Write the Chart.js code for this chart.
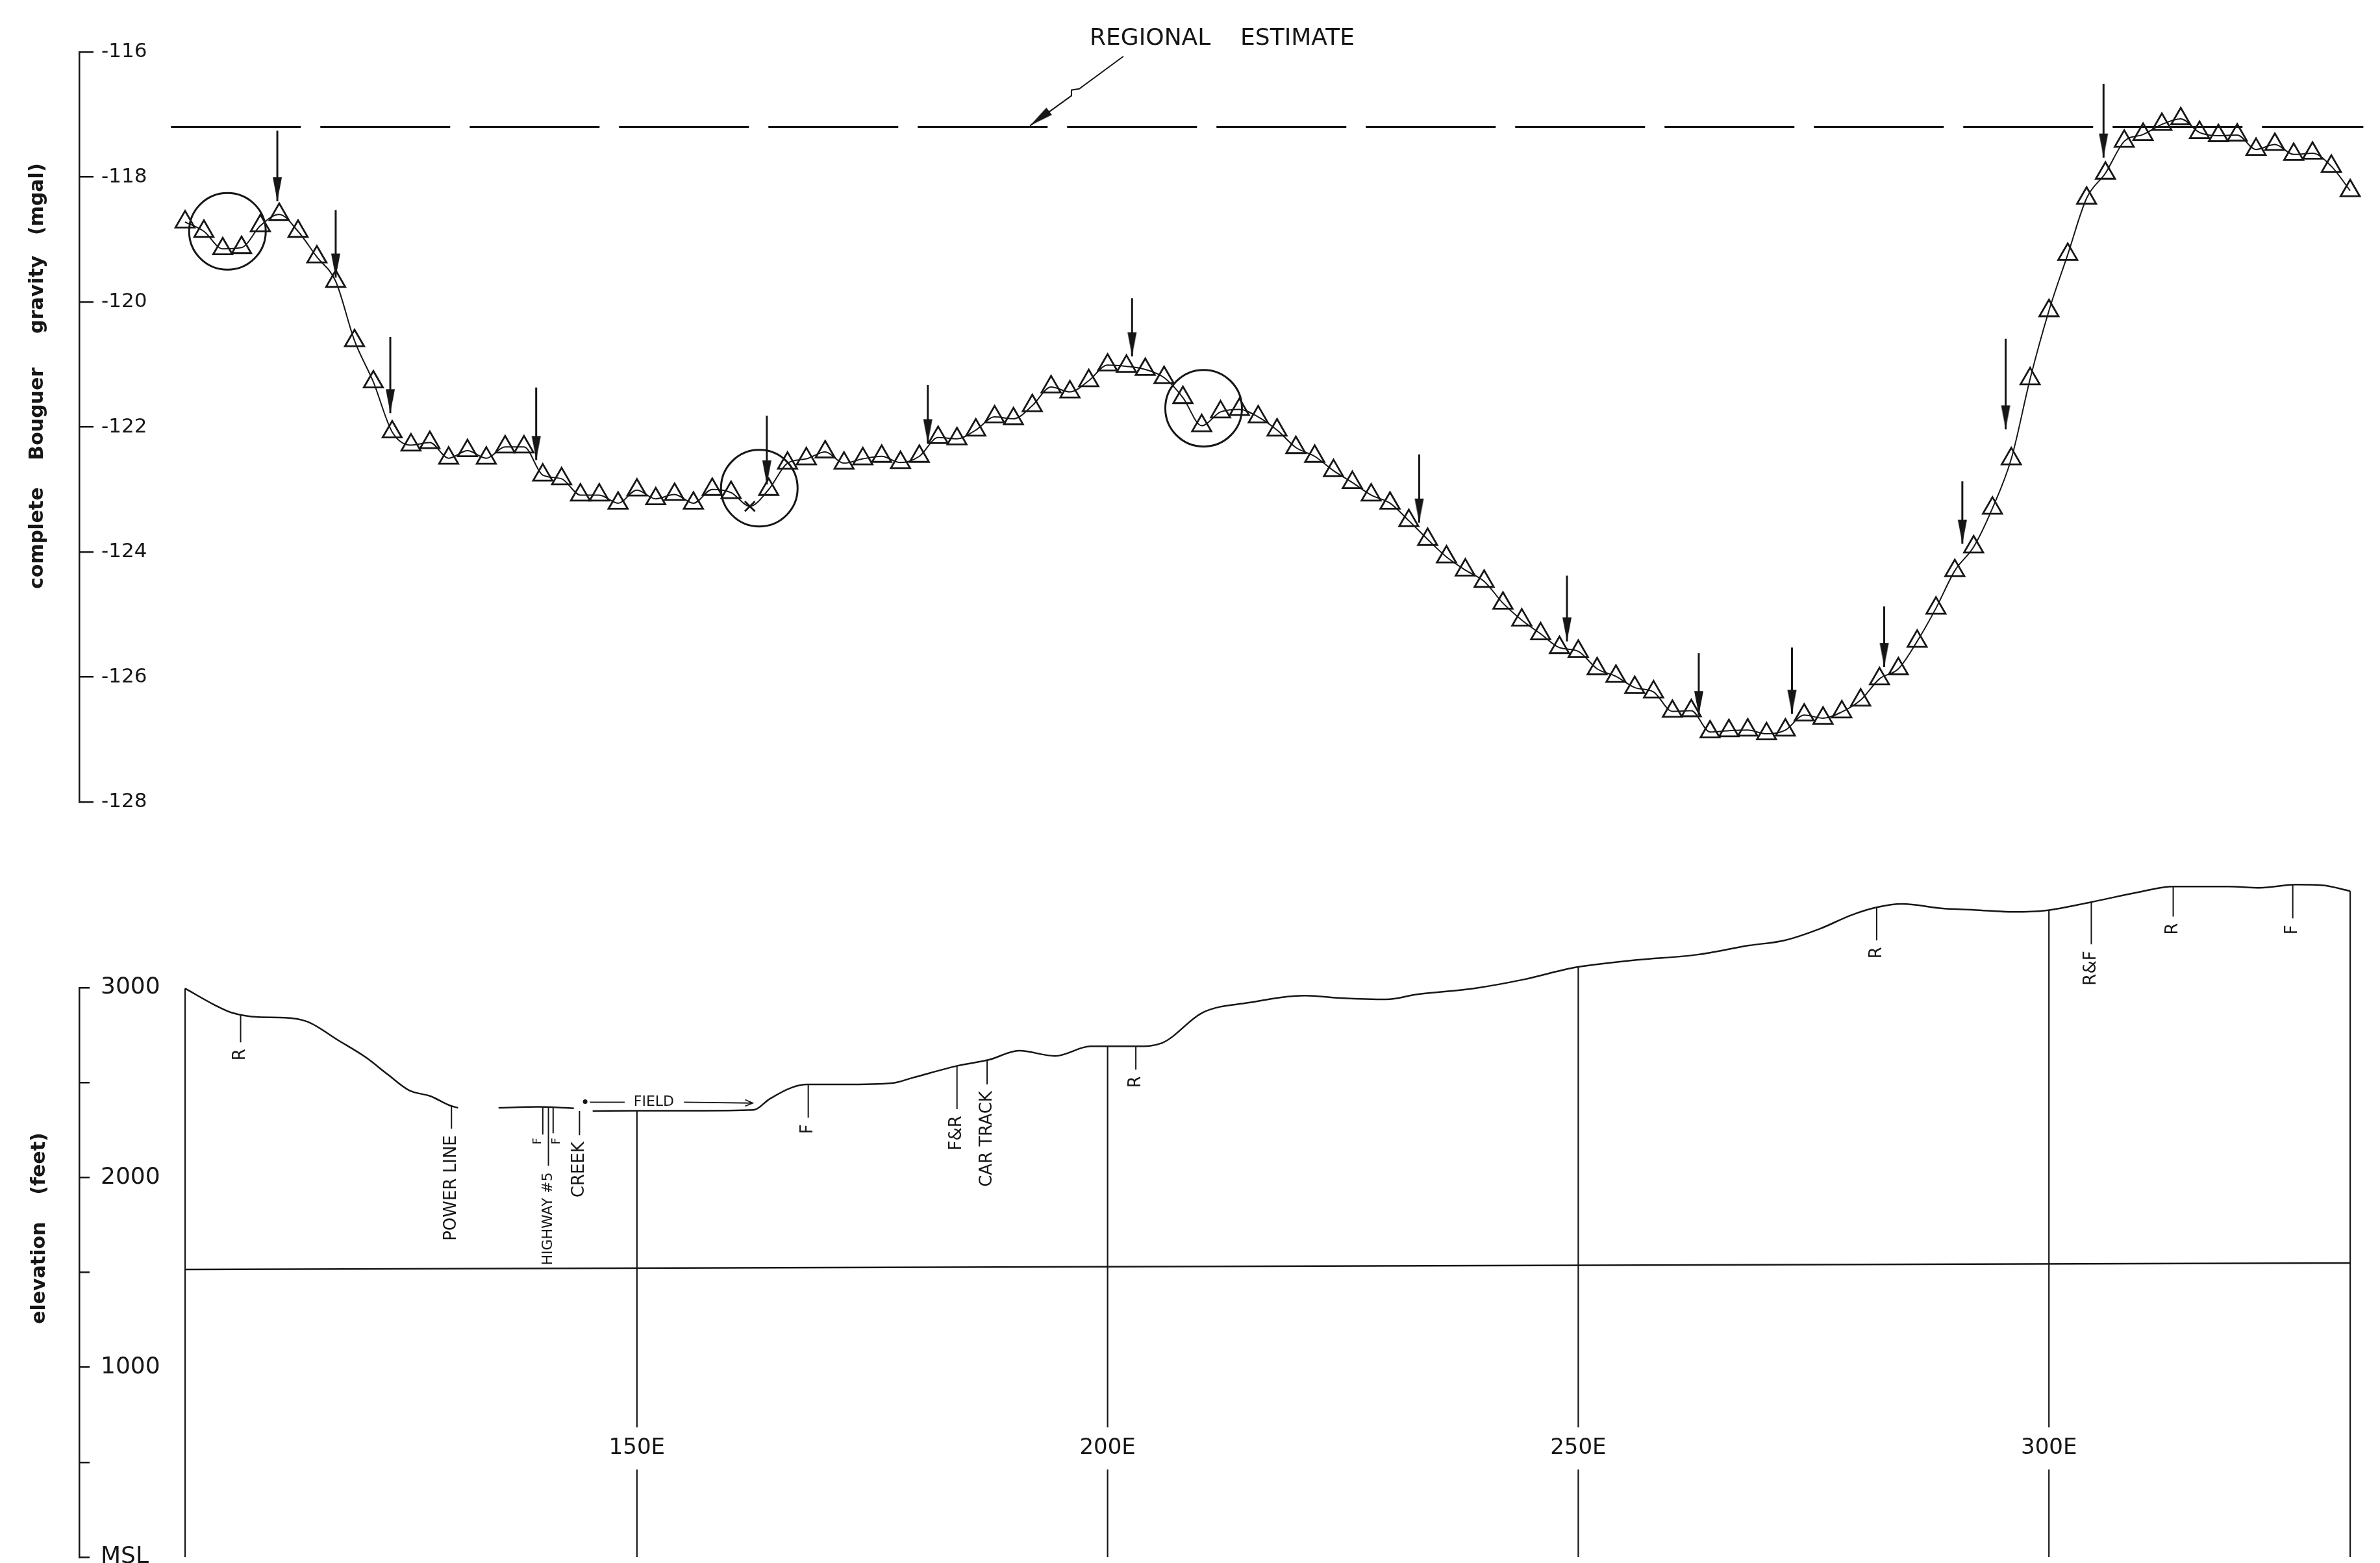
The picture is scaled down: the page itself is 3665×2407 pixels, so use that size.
<!DOCTYPE html>
<html>
<head>
<meta charset="utf-8">
<title>Complete Bouguer gravity and elevation profile</title>
<script src="https://cdn.jsdelivr.net/npm/chart.js@4.4.1/dist/chart.umd.min.js"></script>
<style>
  html, body { margin:0; padding:0; background:#fff; overflow:hidden; }
  #page { position:relative; width:3665px; height:2407px; overflow:hidden; background:#fff; }
  #gravityChart { position:absolute; left:0; top:0; }
  #elevationChart { position:absolute; left:0; top:1300px; }
</style>
</head>
<body>
<div id="page">
  <canvas id="gravityChart" width="3665" height="1300"></canvas>
  <canvas id="elevationChart" width="3665" height="1160"></canvas>
</div>
<script>
// ================= DATA =================
// --- upper panel: complete Bouguer gravity (mgal) at each station ---
const stations = [102,104,106,108,110,112,114,116,118,120,122,124,126,128,130,132,134,136,138,140,
  142,144,146,148,150,152,154,156,158,160,162,164,166,168,170,172,174,176,178,180,
  182,184,186,188,190,192,194,196,198,200,202,204,206,208,210,212,214,216,218,220,
  222,224,226,228,230,232,234,236,238,240,242,244,246,248,250,252,254,256,258,260,
  262,264,266,268,270,272,274,276,278,280,282,284,286,288,290,292,294,296,298,300,
  302,304,306,308,310,312,314,316,318,320,322,324,326,328,330,332];
const gravity = [-118.72,-118.87,-119.15,-119.13,-118.78,-118.60,-118.87,-119.28,-119.67,-120.62,
  -121.28,-122.08,-122.29,-122.25,-122.50,-122.38,-122.50,-122.32,-122.32,-122.77,
  -122.83,-123.09,-123.09,-123.22,-123.01,-123.15,-123.08,-123.22,-123.00,-123.05,
  -123.27,-123.00,-122.58,-122.51,-122.40,-122.58,-122.51,-122.47,-122.57,-122.47,
  -122.17,-122.19,-122.05,-121.84,-121.87,-121.66,-121.36,-121.44,-121.26,-121.01,
  -121.03,-121.08,-121.21,-121.53,-121.98,-121.76,-121.72,-121.84,-122.05,-122.33,
  -122.47,-122.70,-122.89,-123.09,-123.22,-123.50,-123.80,-124.08,-124.29,-124.47,
  -124.82,-125.09,-125.31,-125.53,-125.59,-125.87,-125.99,-126.17,-126.24,-126.55,
  -126.54,-126.88,-126.86,-126.85,-126.91,-126.85,-126.61,-126.66,-126.56,-126.37,
  -126.03,-125.87,-125.43,-124.90,-124.30,-123.92,-123.30,-122.51,-121.23,-120.14,
  -119.24,-118.34,-117.94,-117.43,-117.32,-117.16,-117.07,-117.29,-117.34,-117.33,
  -117.56,-117.48,-117.64,-117.62,-117.83,-118.22];
const rejectedStation = 162;
const gravityTicks = [-128,-126,-124,-122,-120,-118,-116];

const regionalLevel = -117.2;
const regionalSpan = [100.5, 333.4];
const regionalLabel = 'REGIONAL\u00A0\u00A0\u00A0\u00A0ESTIMATE';
const regionalLabelAt = [198.1, -115.79];
const leaderU = [201.68, 196.99, 196.16, 196.16, 191.75];
const leaderV = [-116.07, -116.59, -116.61, -116.70, -117.18];

const arrowU   = [111.8, 118.0, 123.8, 139.3, 163.8, 180.9, 202.6, 233.1, 248.8, 262.8, 272.7, 282.5, 290.8, 295.4, 305.8];
const arrowTop = [-117.26,-118.53,-120.56,-121.37,-121.82,-121.33,-119.94,-122.44,-124.38,-125.62,-125.53,-124.87,-122.87,-120.59,-116.51];
const arrowTip = [-118.39,-119.61,-121.78,-122.53,-122.92,-122.26,-120.87,-123.53,-125.43,-126.61,-126.59,-125.84,-123.87,-122.04,-117.69];

const circleU = [106.5, 163.0, 210.2];
const circleV = [-118.87, -122.98, -121.70];

// --- lower panel: elevation (feet) ---
const profileU = [102,105.2,106.9,109.8,112.6,115.0,118.3,121.2,123.5,125.8,128.1,130.1,131.0,null,
  135.3,139.5,142.4,143.3,null,
  145.3,150,156,162.4,164.1,166.4,168.1,172.0,177.1,179.2,184.1,187.4,190.6,194.4,198.2,200.0,203.1,205.8,
  210.1,215.0,221.0,224.8,229.6,232.9,238.9,244.3,249.5,251.9,256.2,262.7,268.1,271.9,275.7,279.0,281.7,284.4,
  288.7,292.0,296.3,299.6,304.5,309.4,313.2,319.1,322.4,326.2,329.0,332];
const profileElev = [2996,2907,2869,2845,2842,2821,2722,2633,2544,2459,2428,2380,2367,null,
  2367,2372,2367,2365,null,
  2350,2352,2352,2356,2414,2473,2490,2490,2497,2524,2589,2620,2668,2640,2691,2691,2691,2709,
  2869,2921,2958,2945,2938,2965,2996,3044,3105,3122,3146,3174,3222,3249,3311,3382,3423,3441,
  3417,3410,3399,3406,3451,3502,3533,3533,3526,3543,3540,3509];

const sectionU   = [102, 150, 200, 250, 300, 332];
const sectionTop = [2996, 2352, 2691, 3108, 3408, 3509];
const stationTicks = [150, 200, 250, 300];
const stationSuffix = 'E';

const datumU = [102, 332];
const datumElev = [1515, 1550];

const elevTicks = [0, 500, 1000, 1500, 2000, 2500, 3000];
const elevTickLabels = ['MSL', '', '1000', '', '2000', '', '3000'];

const noteU      = [107.9, 130.3, 140.0, 140.6, 141.1, 143.9, 168.2, 184.0, 187.2, 203.0, 281.7, 304.5, 313.2, 325.9];
const noteTop    = [2860, 2377, 2371, 2371, 2371, 2350, 2490, 2589, 2620, 2691, 3423, 3451, 3533, 3541];
const noteBottom = [2712, 2257, 2226, 2062, 2233, 2223, 2315, 2360, 2490, 2568, 3249, 3228, 3375, 3365];
const noteText   = ['R', 'POWER LINE', '', 'HIGHWAY #5', '', 'CREEK', 'F', 'F&R', 'CAR TRACK', 'R', 'R', 'R&F', 'R', 'F'];

const smallNoteU = [139.5, 141.5];
const smallNoteElev = [2192, 2192];
const smallNoteText = ['F', 'F'];

const fieldU    = [145.0, 148.7, null, 155.0, 162.3, null, 161.5, 162.3, 161.5];
const fieldElev = [2397, 2397, null, 2397, 2392, null, 2410, 2392, 2376];
const fieldDot  = [144.5, 2400];
const fieldLabel = 'FIELD';
const fieldLabelAt = [151.8, 2397];

// ================= LAYOUT / STYLE =================
const INK = '#161616';
const FONT = 'DejaVu Sans';
const AXIS_X = 122;          // px, vertical axis line
const FIRST_PX = 285;        // px of first station
const PX_PER_UNIT = 14.496;
const RIGHT_PAD = 15;
const X_MIN = stations[0] - (FIRST_PX - AXIS_X) / PX_PER_UNIT;
const X_MAX = stations[0] + (3665 - RIGHT_PAD - FIRST_PX) / PX_PER_UNIT;
const NB = '\u00A0';
const rep = n => NB.repeat(n);

Chart.defaults.font.family = FONT;
Chart.defaults.color = INK;

const pts = (us, vs) => us.map((u, i) => u === null ? {x: us[i - 1], y: null} : {x: u, y: vs[i]});

function makeArrowHead() {
  const c = document.createElement('canvas');
  c.width = 18; c.height = 84;
  const g = c.getContext('2d');
  g.fillStyle = INK;
  g.beginPath(); g.moveTo(2, 5); g.lineTo(16, 5); g.lineTo(9, 42); g.closePath(); g.fill();
  return c;
}
const arrowHead = makeArrowHead();

const textPlugin = {
  id: 'annotText',
  afterDatasetsDraw(chart, args, opts) {
    const {ctx} = chart;
    const xs = chart.scales.x, ys = chart.scales.y;
    (opts.items || []).forEach(it => {
      if (!it.text) return;
      ctx.save();
      ctx.font = it.font;
      ctx.fillStyle = INK;
      if (it.spacing) ctx.letterSpacing = it.spacing;
      ctx.translate(xs.getPixelForValue(it.u), ys.getPixelForValue(it.v));
      if (it.rotate) ctx.rotate(-Math.PI / 2);
      ctx.textAlign = it.align || 'center';
      ctx.textBaseline = it.baseline || 'middle';
      ctx.fillText(it.text, it.dx || 0, it.dy || 0);
      ctx.restore();
    });
  }
};

// ================= UPPER CHART =================
const arrowPts = [], arrowRadii = [];
arrowU.forEach((u, i) => {
  arrowPts.push({x: u, y: arrowTop[i]}, {x: u, y: arrowTip[i]}, {x: u, y: null});
  arrowRadii.push(0, 4, 0);
});

const gravTitle = rep(15) + 'complete' + rep(4) + 'Bouguer' + rep(5) + 'gravity' + rep(3) + '(mgal)';

new Chart(document.getElementById('gravityChart'), {
  type: 'line',
  data: {
    datasets: [
      { label: 'regional estimate', data: [{x: regionalSpan[0], y: regionalLevel}, {x: regionalSpan[1], y: regionalLevel}],
        borderColor: INK, borderWidth: 3, borderDash: [200, 30], pointRadius: 0, clip: false },
      { label: 'leader', data: pts(leaderU, leaderV), borderColor: INK, borderWidth: 2, tension: 0, clip: false,
        pointStyle: arrowHead, pointRadius: leaderU.map((u, i) => i === leaderU.length - 1 ? 4 : 0), pointRotation: 53 },
      { label: 'Bouguer gravity', data: pts(stations, gravity), borderColor: INK, borderWidth: 2,
        cubicInterpolationMode: 'monotone',
        pointStyle: stations.map(s => s === rejectedStation ? 'crossRot' : 'triangle'),
        pointRadius: stations.map(s => s === rejectedStation ? 11 : 17),
        pointBorderWidth: 2.8, pointBorderColor: INK, pointBackgroundColor: 'rgba(255,255,255,0)', clip: false },
      { label: 'circled', data: pts(circleU, circleV), showLine: false, pointStyle: 'circle', pointRadius: 59,
        pointBorderWidth: 3, pointBorderColor: INK, pointBackgroundColor: 'rgba(255,255,255,0)', clip: false },
      { label: 'arrows', data: arrowPts, borderColor: INK, borderWidth: 3, spanGaps: false,
        pointStyle: arrowHead, pointRadius: arrowRadii, clip: false }
    ]
  },
  options: {
    responsive: false, animation: false, devicePixelRatio: 1, events: [],
    layout: { autoPadding: false, padding: { left: 0, right: RIGHT_PAD, top: 80, bottom: 65 } },
    plugins: {
      legend: { display: false }, tooltip: { enabled: false },
      annotText: { items: [
        { text: regionalLabel, u: regionalLabelAt[0], v: regionalLabelAt[1], align: 'left', font: '36px ' + FONT }
      ] }
    },
    scales: {
      x: { type: 'linear', min: X_MIN, max: X_MAX, display: false },
      y: { type: 'linear', min: -128, max: -116, position: 'left',
        afterFit(s) { s.width = AXIS_X; },
        afterBuildTicks(s) { s.ticks = gravityTicks.map(v => ({value: v})); },
        ticks: { mirror: true, padding: 34, color: INK, font: { family: FONT, size: 31 }, callback: v => String(v) },
        grid: { drawOnChartArea: false, drawTicks: true, tickLength: -22, tickWidth: 2.5, tickColor: INK, color: INK, lineWidth: 2.5 },
        border: { display: true, color: INK, width: 2.5 },
        title: { display: true, text: gravTitle, color: INK, font: { family: FONT, size: 30, weight: 'bold' }, padding: { top: 40, bottom: 0 } }
      }
    }
  },
  plugins: [textPlugin]
});

// ================= LOWER CHART =================
const notePts = [];
noteU.forEach((u, i) => { notePts.push({x: u, y: noteTop[i]}, {x: u, y: noteBottom[i]}, {x: u, y: null}); });
const sectionPts = [];
sectionU.forEach((u, i) => { sectionPts.push({x: u, y: 0}, {x: u, y: sectionTop[i]}, {x: u, y: null}); });

const noteItems = noteU.map((u, i) => ({ text: noteText[i], u: u, v: noteBottom[i], rotate: true, align: 'right', dx: -10,
  font: (noteText[i].length > 9 && noteText[i].indexOf('#') >= 0 ? '22px ' : '26px ') + FONT }));
smallNoteU.forEach((u, i) => noteItems.push({ text: smallNoteText[i], u: u, v: smallNoteElev[i], rotate: true, align: 'center', font: '18px ' + FONT }));
noteItems.push({ text: fieldLabel, u: fieldLabelAt[0], v: fieldLabelAt[1], align: 'center', font: '22px ' + FONT });

const elevTitle = rep(13) + 'elevation' + rep(4) + '(feet)';

new Chart(document.getElementById('elevationChart'), {
  type: 'line',
  data: {
    datasets: [
      { label: 'section lines', data: sectionPts, borderColor: INK, borderWidth: 2.2, pointRadius: 0, spanGaps: false, clip: false },
      { label: 'datum', data: pts(datumU, datumElev), borderColor: INK, borderWidth: 2.5, pointRadius: 0, clip: false },
      { label: 'elevation', data: pts(profileU, profileElev), borderColor: INK, borderWidth: 2.5, pointRadius: 0,
        cubicInterpolationMode: 'monotone', spanGaps: false, clip: false },
      { label: 'notes', data: notePts, borderColor: INK, borderWidth: 2, pointRadius: 0, spanGaps: false, clip: false },
      { label: 'field', data: pts(fieldU, fieldElev), borderColor: INK, borderWidth: 1.8, pointRadius: 0, spanGaps: false, clip: false },
      { label: 'field start', data: [{x: fieldDot[0], y: fieldDot[1]}], showLine: false, pointRadius: 3.5,
        pointBackgroundColor: INK, pointBorderWidth: 0, clip: false }
    ]
  },
  options: {
    responsive: false, animation: false, devicePixelRatio: 1, events: [],
    layout: { autoPadding: false, padding: { left: 0, right: RIGHT_PAD, top: 221, bottom: 62 } },
    plugins: { legend: { display: false }, tooltip: { enabled: false }, annotText: { items: noteItems } },
    scales: {
      x: { type: 'linear', min: X_MIN, max: X_MAX, position: 'bottom', z: 1,
        afterFit(s) { s.height = 0; },
        afterBuildTicks(s) { s.ticks = stationTicks.map(v => ({value: v})); },
        grid: { display: false }, border: { display: false },
        ticks: { z: 1, mirror: true, padding: 147, color: INK, autoSkip: false, maxRotation: 0,
          font: { family: FONT, size: 34 }, callback: v => v + stationSuffix,
          showLabelBackdrop: true, backdropColor: '#ffffff', backdropPadding: { top: 12, bottom: 12, left: 4, right: 4 } }
      },
      y: { type: 'linear', min: 0, max: 3000, position: 'left',
        afterFit(s) { s.width = AXIS_X; },
        afterBuildTicks(s) { s.ticks = elevTicks.map(v => ({value: v})); },
        ticks: { mirror: true, padding: 33, color: INK, font: { family: FONT, size: 36 },
          callback: v => elevTickLabels[elevTicks.indexOf(v)] },
        grid: { drawOnChartArea: false, drawTicks: true, tickLength: -16, tickWidth: 2.5, tickColor: INK, color: INK, lineWidth: 2.5 },
        border: { display: true, color: INK, width: 2.5 },
        title: { display: true, text: elevTitle, color: INK, font: { family: FONT, size: 30, weight: 'bold' }, padding: { top: 43, bottom: 0 } }
      }
    }
  },
  plugins: [textPlugin]
});
</script>
</body>
</html>
